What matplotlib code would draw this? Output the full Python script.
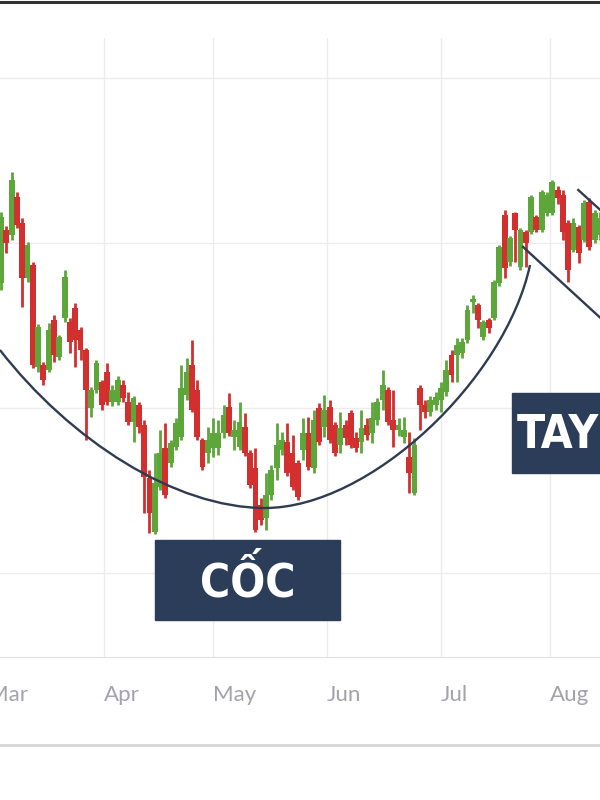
import matplotlib
matplotlib.use("Agg")
import matplotlib.pyplot as plt
import numpy as np
from matplotlib import font_manager
from matplotlib.patches import Rectangle, PathPatch
from matplotlib.path import Path
from matplotlib.lines import Line2D

# daily OHLC, one value per trading session
open_ = [41.7, 47.0, 46.5, 50.3, 47.7, 42.2, 43.5, 33.3, 33.5, 33.0,
         38.0, 34.3, 38.2, 37.8, 39.2, 37.0, 35.0, 29.2, 31.0, 31.8,
         32.8, 29.8, 29.8, 31.5, 29.8, 27.8, 29.5, 27.5, 22.2, 16.8,
         21.3, 25.2, 23.7, 25.3, 26.3, 30.5, 33.5, 31.0, 26.0, 24.7,
         25.2, 25.2, 26.7, 29.3, 26.3, 25.3, 27.3, 24.7, 23.2, 19.5,
         18.2, 20.5, 23.2, 25.0, 25.8, 24.7, 23.7, 25.0, 26.7, 23.2,
         29.2, 27.3, 29.3, 27.5, 25.5, 27.5, 28.7, 26.2, 25.8, 27.5,
         26.7, 28.0, 30.0, 31.0, 28.0, 27.0, 26.3, 24.3, 20.7, 31.2,
         29.5, 28.8, 29.5, 30.0, 30.8, 34.5, 34.5, 34.7, 36.0, 39.8,
         39.5, 36.3, 38.0, 38.2, 41.7, 48.5, 43.8, 48.7, 43.3, 46.8,
         46.8, 48.3, 47.0, 48.7, 48.7, 51.0, 50.5, 47.7, 45.0, 47.3,
         46.0, 49.8, 46.0, 46.5]
close = [48.3, 45.7, 52.0, 47.5, 42.2, 45.5, 33.5, 37.3, 32.0, 37.0,
         34.5, 36.3, 42.3, 35.8, 36.0, 35.0, 31.0, 31.0, 33.7, 29.5,
         29.8, 31.0, 32.0, 30.2, 27.8, 30.2, 27.3, 22.3, 18.7, 21.7,
         24.7, 20.5, 25.7, 27.7, 31.2, 32.8, 29.0, 26.3, 23.3, 26.0,
         26.7, 26.7, 28.5, 26.7, 27.0, 27.8, 24.7, 21.5, 17.0, 18.0,
         20.5, 23.0, 25.5, 26.0, 22.7, 21.3, 20.3, 26.7, 23.3, 28.0,
         25.8, 29.0, 26.0, 24.7, 27.2, 26.2, 25.5, 25.2, 27.2, 26.5,
         28.2, 29.8, 31.5, 27.8, 27.0, 27.5, 27.0, 22.7, 25.5, 29.5,
         28.8, 30.0, 30.3, 31.2, 33.0, 32.5, 35.5, 35.8, 39.0, 40.1,
         38.0, 37.8, 37.2, 41.8, 45.3, 43.2, 46.2, 47.0, 47.0, 45.7,
         50.3, 47.0, 50.8, 50.5, 51.8, 50.2, 46.8, 43.0, 47.7, 44.7,
         49.7, 45.3, 48.7, 48.2]
high = [48.8, 47.4, 52.8, 50.8, 48.2, 45.8, 43.8, 37.6, 33.8, 37.7,
        38.5, 36.5, 43.0, 38.2, 39.7, 37.3, 35.2, 31.3, 34.0, 32.0,
        33.7, 31.5, 32.4, 32.0, 30.8, 30.4, 29.8, 28.0, 23.0, 24.7,
        27.0, 27.7, 26.0, 28.2, 33.5, 34.2, 36.0, 32.0, 26.2, 27.3,
        28.2, 28.0, 29.5, 30.7, 28.0, 29.8, 28.7, 25.0, 25.2, 20.2,
        22.7, 23.5, 27.7, 26.8, 27.7, 26.5, 24.0, 28.2, 28.3, 29.0,
        29.7, 30.5, 30.0, 27.8, 28.8, 28.0, 29.0, 26.8, 29.0, 28.2,
        29.8, 30.2, 33.0, 31.3, 31.0, 28.2, 28.3, 26.8, 26.2, 31.5,
        30.0, 30.4, 30.8, 31.8, 34.0, 35.0, 36.2, 36.2, 39.5, 40.5,
        39.7, 38.0, 38.2, 42.0, 45.5, 49.0, 46.4, 48.8, 47.2, 47.0,
        50.5, 48.5, 51.0, 50.8, 52.0, 51.4, 51.0, 48.0, 48.2, 47.5,
        50.0, 50.2, 49.0, 48.8]
low = [41.0, 44.7, 46.0, 47.2, 39.3, 41.8, 33.2, 32.8, 31.5, 32.8,
       33.8, 34.0, 37.8, 34.7, 33.3, 34.0, 26.0, 28.3, 30.7, 29.0,
       29.5, 29.4, 29.5, 29.8, 27.5, 25.8, 26.7, 18.7, 16.7, 16.6,
       21.0, 20.2, 23.3, 25.0, 26.0, 30.0, 28.8, 26.0, 23.0, 23.7,
       24.3, 24.5, 26.2, 26.4, 25.0, 25.0, 24.4, 21.2, 16.8, 17.5,
       17.0, 20.0, 22.0, 24.5, 22.4, 21.0, 20.0, 24.0, 23.0, 22.7,
       25.5, 26.3, 25.7, 24.4, 24.7, 25.5, 25.2, 24.8, 24.7, 26.0,
       25.7, 27.5, 29.0, 27.5, 25.3, 26.4, 25.7, 20.7, 20.5, 27.0,
       28.2, 28.4, 29.0, 28.8, 30.4, 31.8, 31.8, 34.2, 35.7, 38.7,
       37.2, 36.0, 36.7, 38.0, 41.4, 42.2, 43.4, 43.8, 43.0, 43.3,
       46.6, 46.8, 46.8, 48.4, 48.5, 49.6, 46.0, 41.8, 44.8, 43.7,
       45.8, 45.0, 45.7, 46.0]

months = ["Mar", "Apr", "May", "Jun", "Jul", "Aug"]
month_start = [-2.5, 19.5, 40, 61.5, 83, 103.5]   # session where each month begins
price_grid = [12.7, 29.2, 45.7, 62.2]

RED = "#d32f2f"
GREEN = "#5ca63a"
NAVY = "#2b3d58"
LINE = "#2f3b50"

# pick a narrow bold face for the pattern labels if one is installed
fonts = font_manager.fontManager.ttflist
label_font = dict(family=["DejaVu Sans"], weight="bold", size=27)
if any(f.name == "DejaVu Sans" and f.stretch == "condensed" for f in fonts):
    label_font = dict(family=["DejaVu Sans"], stretch="condensed",
                      weight="bold", size=33)
elif any(f.name == "Liberation Sans Narrow" for f in fonts):
    label_font = dict(family=["Liberation Sans Narrow", "DejaVu Sans"],
                      weight="bold", size=34)
elif any(f.name == "Roboto" for f in fonts):
    label_font = dict(family=["Roboto", "DejaVu Sans"], weight="bold", size=30)

fig = plt.figure(figsize=(6, 8), dpi=100)
ax = fig.add_axes([0, 143 / 800, 1, 619 / 800])

o = np.array(open_)
c = np.array(close)
x = np.arange(len(o))
colors = np.where(c >= o, GREEN, RED)

ax.vlines(x, low, high, colors=colors, linewidth=2.0, zorder=3)
ax.bar(x, np.maximum(np.abs(c - o), 0.25), bottom=np.minimum(o, c),
       width=1.1, color=colors, zorder=4)

# cup outline
cup = Path([(-0.2, 35.0), (13.0, 26.0), (32.8, 19.2), (49.8, 19.2),
            (69.6, 19.2), (95.1, 32.0), (99.8, 43.5)],
           [Path.MOVETO] + [Path.CURVE4] * 6)
ax.add_patch(PathPatch(cup, fill=False, edgecolor=LINE, lw=1.7, zorder=5))

# handle channel
ax.plot([98.5, 116.8], [45.3, 36.4], color=LINE, lw=1.7, zorder=5)
ax.plot([108.9, 116.8], [51.0, 47.2], color=LINE, lw=1.7, zorder=5)

# pattern labels
ax.add_patch(Rectangle((29.06, 8.0), 34.9, 8.0, color=NAVY, zorder=6))
ax.text(46.5, 11.8, "CỐC", color="white", ha="center", va="center",
        zorder=7, **label_font)
ax.add_patch(Rectangle((96.4, 22.7), 20, 8.0, color=NAVY, zorder=6,
                       clip_on=False))
ax.text(97.3, 26.5, "TAY", color="white", ha="left", va="center",
        zorder=7, **label_font)

ax.set_xticks(month_start)
ax.set_xticklabels([])
ax.set_yticks(price_grid)
ax.set_yticklabels([])
ax.set_xlim(-0.19, 113.0)
ax.set_ylim(4.3, 66.2)
ax.tick_params(length=0)
ax.grid(True, color="#ececec", lw=1)
ax.set_axisbelow(True)
for side in ["top", "left", "right"]:
    ax.spines[side].set_visible(False)
ax.spines["bottom"].set_color("#e0e0e0")

for name, pos in zip(months, month_start):
    ax.text(pos, -0.0614, name, transform=ax.get_xaxis_transform(),
            ha="left", va="center", fontsize=16, color="#a2a2aa",
            family="Lato", clip_on=False)

fig.add_artist(Line2D([0, 1], [1 - 1.5 / 800] * 2, transform=fig.transFigure,
                      color="#333333", lw=2.2))
fig.add_artist(Line2D([0, 1], [1 - 745 / 800] * 2, transform=fig.transFigure,
                      color="#d6d6d6", lw=2))

fig.savefig("out.png", dpi=100, facecolor="white")
